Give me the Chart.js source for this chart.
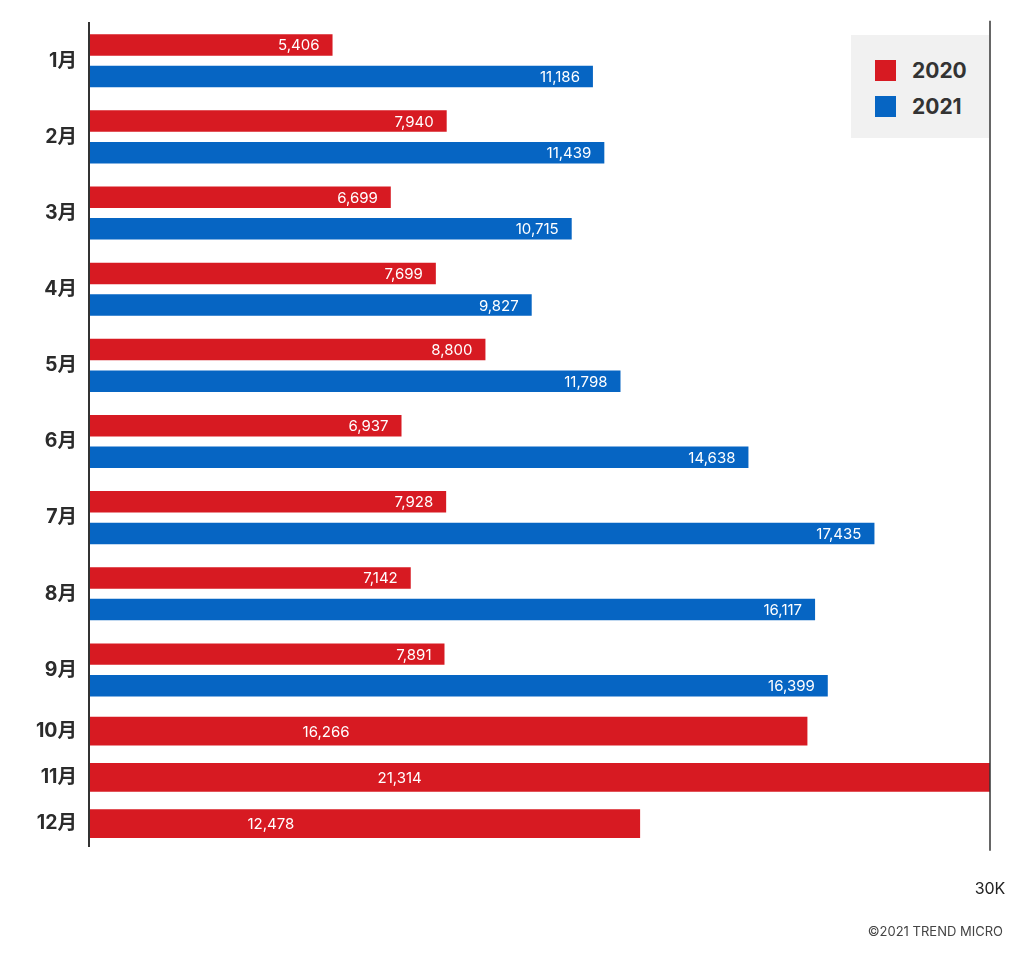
<!DOCTYPE html>
<html>
<head>
<meta charset="utf-8">
<script src="https://cdn.jsdelivr.net/npm/chart.js@4/dist/chart.umd.min.js"></script>
<style>
  html, body { margin: 0; padding: 0; background: #fff; }
  #wrap { position: relative; width: 1024px; height: 957px; overflow: hidden; font-family: Inter, "Noto Sans CJK JP", sans-serif; }
  #top { position: absolute; left: 0; top: 0; }
  #bottom { position: absolute; left: 0; top: 708px; }
  #legend { position: absolute; left: 851px; top: 35px; width: 138px; height: 103px; background: #f1f1f1; }
  .item { position: absolute; left: 24px; height: 21px; display: flex; align-items: center; }
  .sw { width: 21px; height: 21px; margin-right: 16px; }
  .lt { font: 700 21px Inter, sans-serif; color: #333; line-height: 21px; }
  #credit { position: absolute; right: 21px; top: 923px; font: 400 13px Inter, sans-serif; color: #444; }
</style>
</head>
<body>
<div id="wrap">
  <canvas id="top" width="1024" height="708" style="width:1024px;height:708px"></canvas>
  <canvas id="bottom" width="1024" height="249" style="width:1024px;height:249px"></canvas>
  <div id="legend"></div>
  <div id="credit">©2021 TREND MICRO</div>
</div>
<script>
const months = ['1月','2月','3月','4月','5月','6月','7月','8月','9月','10月','11月','12月'];
const seriesNames = ['2020', '2021'];
const values2020 = [5406, 7940, 6699, 7699, 8800, 6937, 7928, 7142, 7891, 16266, 21314, 12478];
const values2021 = [11186, 11439, 10715, 9827, 11798, 14638, 17435, 16117, 16399];
const xTickValues = [20400];
const xTickLabels = ['30K'];

const RED = '#d71a22';
const BLUE = '#0665c3';
const colors = [RED, BLUE];
const FONT = 'Inter, "Noto Sans CJK JP", sans-serif';

// legend
const legendEl = document.getElementById('legend');
seriesNames.forEach((name, i) => {
  const it = document.createElement('div');
  it.className = 'item';
  it.style.top = (25 + i * 36) + 'px';
  it.innerHTML = '<div class="sw" style="background:' + colors[i] + '"></div><span class="lt">' + name + '</span>';
  legendEl.appendChild(it);
});

const fmt = v => v.toLocaleString('en-US');

const rightLine = {
  id: 'rightLine',
  afterDraw(chart, args, opts) {
    const { ctx, chartArea } = chart;
    ctx.save();
    ctx.strokeStyle = '#333';
    ctx.lineWidth = 1.5;
    ctx.beginPath();
    ctx.moveTo(chartArea.right, chartArea.top - (opts.extTop || 0));
    ctx.lineTo(chartArea.right, chartArea.bottom + (opts.extBottom || 0));
    ctx.stroke();
    ctx.restore();
  }
};

const valueLabels = {
  id: 'valueLabels',
  afterDatasetsDraw(chart, args, opts) {
    const { ctx } = chart;
    const xScale = chart.scales.x;
    ctx.save();
    ctx.fillStyle = '#fff';
    ctx.font = '400 15px ' + FONT;
    ctx.textBaseline = 'middle';
    chart.data.datasets.forEach((ds, di) => {
      const meta = chart.getDatasetMeta(di);
      meta.data.forEach((el, i) => {
        const v = ds.data[i];
        if (v == null) return;
        if (opts.mode === 'end') {
          ctx.textAlign = 'right';
          ctx.fillText(fmt(v), el.x - 13, el.y + 1);
        } else {
          ctx.textAlign = 'center';
          ctx.fillText(fmt(v), xScale.getPixelForValue(v * opts.frac), el.y + 1);
        }
      });
    });
    ctx.restore();
  }
};

const yAxis = {
  grid: { display: false, drawTicks: false },
  border: { display: true, color: '#333', width: 2, z: 1 },
  ticks: { padding: 12, color: '#2b2b2b', font: { family: FONT, size: 19.5, weight: 'bold' } },
  afterFit: s => { s.width = 89; s.paddingTop = 0; s.paddingBottom = 0; }
};

new Chart(document.getElementById('top'), {
  type: 'bar',
  data: {
    labels: months.slice(0, 9),
    datasets: [
      { label: seriesNames[0], data: values2020.slice(0, 9), backgroundColor: RED, barPercentage: 0.68, categoryPercentage: 0.83 },
      { label: seriesNames[1], data: values2021, backgroundColor: BLUE, barPercentage: 0.68, categoryPercentage: 0.83 }
    ]
  },
  options: {
    indexAxis: 'y',
    responsive: false,
    animation: false,
    layout: { padding: { top: 22.7, right: 34, bottom: 0, left: 0 } },
    plugins: { legend: { display: false }, tooltip: { enabled: false }, valueLabels: { mode: 'end' }, rightLine: { extTop: 2, extBottom: 1 } },
    scales: {
      x: { display: false, min: 0, max: 20000 },
      y: yAxis
    }
  },
  plugins: [valueLabels, rightLine]
});

new Chart(document.getElementById('bottom'), {
  type: 'bar',
  data: {
    labels: months.slice(9),
    datasets: [
      { label: seriesNames[0], data: values2020.slice(9), backgroundColor: RED, barPercentage: 0.62, categoryPercentage: 1 }
    ]
  },
  options: {
    indexAxis: 'y',
    responsive: false,
    animation: false,
    layout: { padding: { top: 0, right: 34, bottom: 50.3, left: 0 } },
    plugins: { legend: { display: false }, tooltip: { enabled: false }, valueLabels: { mode: 'frac', frac: 0.33 }, rightLine: { extTop: 1, extBottom: 4 } },
    scales: {
      x: {
        min: 0, max: 20400,
        grid: { display: false, drawTicks: false },
        border: { display: false },
        afterBuildTicks: s => { s.ticks = xTickValues.map(v => ({ value: v })); },
        afterFit: s => { s.height = 60; s.paddingLeft = 0; s.paddingRight = 0; },
        ticks: {
          padding: 33, autoSkip: false, maxRotation: 0, color: '#222',
          font: { family: FONT, size: 16 },
          callback: (v, i) => xTickLabels[i]
        }
      },
      y: yAxis
    }
  },
  plugins: [valueLabels, rightLine]
});
</script>
</body>
</html>
